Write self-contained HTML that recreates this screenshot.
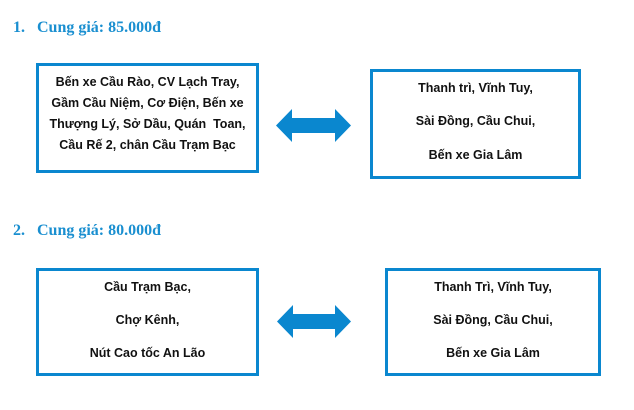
<!DOCTYPE html>
<html><head><meta charset="utf-8"><style>
body{margin:0;width:634px;height:410px;background:#fff;position:relative;overflow:hidden;font-family:"Liberation Sans",sans-serif}
.h{position:absolute;left:13px;font-family:"Liberation Serif",serif;font-weight:bold;font-size:16px;color:#1a8fd0}
.h span{display:inline-block;width:24px}
.b{position:absolute;border:3px solid #0a87cf;box-sizing:border-box;text-align:center;font-weight:bold;font-size:12.5px;color:#111}
.b div{position:absolute;left:0;right:0}
svg{position:absolute}
</style></head><body>
<div class="h" style="top:19px"><span>1.</span>Cung giá: 85.000đ</div>
<div class="b" style="left:36px;top:63px;width:223px;height:110px;line-height:21px;padding-top:6px">Bến xe Cầu Rào, CV Lạch Tray,<br>Gầm Cầu Niệm, Cơ Điện, Bến xe<br>Thượng Lý, Sở Dầu, Quán&nbsp; Toan,<br>Cầu Rế 2, chân Cầu Trạm Bạc</div>
<svg style="left:276px;top:109px" width="75" height="33"><polygon points="0,16.5 16,0 16,9 59,9 59,0 75,16.5 59,33 59,24 16,24 16,33" fill="#0a87cf"/></svg>
<div class="b" style="left:370px;top:69px;width:211px;height:110px">
<div style="top:9px">Thanh trì, Vĩnh Tuy,</div><div style="top:42px">Sài Đồng, Cầu Chui,</div><div style="top:76px">Bến xe Gia Lâm</div></div>
<div class="h" style="top:222px"><span>2.</span>Cung giá: 80.000đ</div>
<div class="b" style="left:36px;top:268px;width:223px;height:108px">
<div style="top:9px">Cầu Trạm Bạc,</div><div style="top:42px">Chợ Kênh,</div><div style="top:75px">Nút Cao tốc An Lão</div></div>
<svg style="left:277px;top:305px" width="74" height="33"><polygon points="0,16.5 16,0 16,9 58,9 58,0 74,16.5 58,33 58,24 16,24 16,33" fill="#0a87cf"/></svg>
<div class="b" style="left:385px;top:268px;width:216px;height:108px">
<div style="top:9px">Thanh Trì, Vĩnh Tuy,</div><div style="top:42px">Sài Đồng, Cầu Chui,</div><div style="top:75px">Bến xe Gia Lâm</div></div>
</body></html>
